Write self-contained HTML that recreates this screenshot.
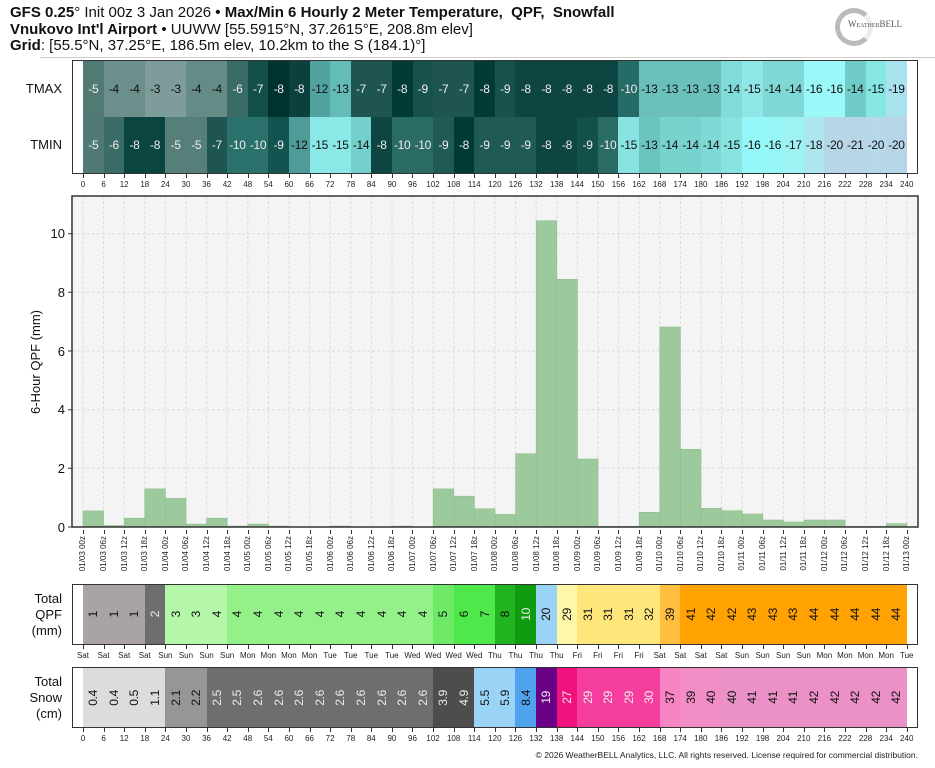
<!DOCTYPE html>
<html><head><meta charset="utf-8">
<style>
*{margin:0;padding:0;box-sizing:border-box}
body{width:935px;height:768px;background:#fff;position:relative;overflow:hidden;font-family:"Liberation Sans",sans-serif;color:#111}
.abs{position:absolute}
.hdr{position:absolute;left:10px;font-family:"Liberation Sans Narrow","Liberation Sans",sans-serif;font-size:15px;white-space:nowrap;color:#111}
.hdr b{font-weight:bold}
.box{position:absolute;left:72px;width:846px;border:1.5px solid #333}
.row{position:absolute;left:83px;width:824px;display:flex}
.row div{flex:1;display:flex;align-items:center;justify-content:center;font-size:12px;white-space:nowrap;letter-spacing:-0.3px}
.w{color:#eee}.k{color:#111}
.ticks{position:absolute;left:72.7px;width:844.6px;display:flex;font-size:8px;font-family:"Liberation Sans Narrow","Liberation Sans",sans-serif;color:#222}
.ticks div{flex:1;text-align:center;position:relative;padding-top:6px}
.ticks div:before{content:"";position:absolute;left:50%;top:0;width:1px;height:4px;background:#333}
.lab{position:absolute;right:873px;text-align:right;font-size:13px;line-height:16px;color:#111}
.v div span{writing-mode:vertical-rl;transform:rotate(180deg);font-size:12px}
.dates{position:absolute;left:72.7px;width:844.6px;top:531px;height:50px;display:flex;font-size:8px;font-family:"Liberation Sans Narrow","Liberation Sans",sans-serif;color:#222}
.dates div{flex:1;display:flex;justify-content:center;align-items:flex-start;position:relative;padding-top:5px}
.dates div:before{content:"";position:absolute;left:50%;top:-1px;width:1px;height:4px;background:#333}
.dates span{writing-mode:vertical-rl;transform:rotate(180deg);white-space:nowrap}
</style></head><body>

<div class="hdr" style="top:4px"><b>GFS 0.25</b>° Init 00z 3 Jan 2026 <b>• Max/Min 6 Hourly 2 Meter Temperature,&nbsp; QPF,&nbsp; Snowfall</b></div>
<div class="hdr" style="top:21px"><b>Vnukovo Int'l Airport</b> • UUWW [55.5915°N, 37.2615°E, 208.8m elev]</div>
<div class="hdr" style="top:37px"><b>Grid</b>: [55.5°N, 37.25°E, 186.5m elev, 10.2km to the S (184.1)°]</div>
<div class="abs" style="left:40px;top:57px;width:895px;height:1px;background:#ccc"></div>
<div class="abs" style="left:835px;top:8px;width:38px;height:38px;border-radius:50%;border:5px solid #bbb;border-right-color:#eee"></div>
<div class="abs" style="left:848px;top:19px;font-size:9px;color:#555;font-family:'Liberation Serif',serif">W<span style="font-size:6px">EATHER</span>BELL</div>

<!-- Heatmap -->
<div class="box" style="top:60px;height:114px"></div>
<div class="row" style="top:61px;height:56px">
<div class="w" style="background:#517a75">-5</div><div class="k" style="background:#6c8f8b">-4</div><div class="k" style="background:#6c8f8b">-4</div><div class="k" style="background:#7e9c99">-3</div><div class="k" style="background:#7e9c99">-3</div><div class="k" style="background:#658b86">-4</div><div class="k" style="background:#658b86">-4</div><div class="w" style="background:#3a6a65">-6</div><div class="w" style="background:#13504b">-7</div><div class="w" style="background:#00332f">-8</div><div class="w" style="background:#0b403c">-8</div><div class="k" style="background:#52a39f">-12</div><div class="k" style="background:#63bcb7">-13</div><div class="w" style="background:#1f5550">-7</div><div class="w" style="background:#1f5550">-7</div><div class="w" style="background:#023a35">-8</div><div class="w" style="background:#17524d">-9</div><div class="w" style="background:#1f5550">-7</div><div class="w" style="background:#1f5550">-7</div><div class="w" style="background:#023a35">-8</div><div class="w" style="background:#17524d">-9</div><div class="w" style="background:#0d4543">-8</div><div class="w" style="background:#0d4543">-8</div><div class="w" style="background:#0d4543">-8</div><div class="w" style="background:#0d4543">-8</div><div class="w" style="background:#0d4543">-8</div><div class="w" style="background:#256b66">-10</div><div class="k" style="background:#6cc0bc">-13</div><div class="k" style="background:#6cc0bc">-13</div><div class="k" style="background:#6cc0bc">-13</div><div class="k" style="background:#6cc0bc">-13</div><div class="k" style="background:#80dcda">-14</div><div class="k" style="background:#8ee6e6">-15</div><div class="k" style="background:#7fd8d6">-14</div><div class="k" style="background:#7fd8d6">-14</div><div class="k" style="background:#9af8f8">-16</div><div class="k" style="background:#9af8f8">-16</div><div class="k" style="background:#6fccc8">-14</div><div class="k" style="background:#86e6e2">-15</div><div class="k" style="background:#a8e2ee">-19</div>
</div>
<div class="row" style="top:117px;height:56px">
<div class="w" style="background:#4f7974">-5</div><div class="w" style="background:#3b6b66">-6</div><div class="w" style="background:#0b4542">-8</div><div class="w" style="background:#0b4542">-8</div><div class="w" style="background:#567f7a">-5</div><div class="w" style="background:#567f7a">-5</div><div class="w" style="background:#1f5550">-7</div><div class="w" style="background:#2a716c">-10</div><div class="w" style="background:#2a716c">-10</div><div class="w" style="background:#135450">-9</div><div class="k" style="background:#4f9b97">-12</div><div class="k" style="background:#8ae8e6">-15</div><div class="k" style="background:#8ae8e6">-15</div><div class="k" style="background:#73d0cc">-14</div><div class="w" style="background:#0c4542">-8</div><div class="w" style="background:#2a6b66">-10</div><div class="w" style="background:#2a6b66">-10</div><div class="w" style="background:#1f5a56">-9</div><div class="w" style="background:#003a36">-8</div><div class="w" style="background:#1f5a56">-9</div><div class="w" style="background:#1f5a56">-9</div><div class="w" style="background:#1f5a56">-9</div><div class="w" style="background:#0c4542">-8</div><div class="w" style="background:#0c4542">-8</div><div class="w" style="background:#134f4b">-9</div><div class="w" style="background:#2a6b66">-10</div><div class="k" style="background:#8ae3e3">-15</div><div class="k" style="background:#6ac5c1">-13</div><div class="k" style="background:#78d2ce">-14</div><div class="k" style="background:#78d2ce">-14</div><div class="k" style="background:#7ed8d5">-14</div><div class="k" style="background:#88e2e0">-15</div><div class="k" style="background:#95f7f7">-16</div><div class="k" style="background:#95f7f7">-16</div><div class="k" style="background:#9ff2f4">-17</div><div class="k" style="background:#ade6ef">-18</div><div class="k" style="background:#b6d6e8">-20</div><div class="k" style="background:#b8d4e7">-21</div><div class="k" style="background:#b6d8ea">-20</div><div class="k" style="background:#b6d6e8">-20</div>
</div>
<div class="lab" style="top:81px">TMAX</div>
<div class="lab" style="top:137px">TMIN</div>
<div class="ticks" style="top:174px"><div>0</div><div>6</div><div>12</div><div>18</div><div>24</div><div>30</div><div>36</div><div>42</div><div>48</div><div>54</div><div>60</div><div>66</div><div>72</div><div>78</div><div>84</div><div>90</div><div>96</div><div>102</div><div>108</div><div>114</div><div>120</div><div>126</div><div>132</div><div>138</div><div>144</div><div>150</div><div>156</div><div>162</div><div>168</div><div>174</div><div>180</div><div>186</div><div>192</div><div>198</div><div>204</div><div>210</div><div>216</div><div>222</div><div>228</div><div>234</div><div>240</div></div>

<!-- Main chart -->
<svg class="abs" style="left:0;top:0" width="935" height="768">
<rect x="72" y="196" width="846" height="331" fill="#f4f4f4"/>
<g stroke="#dcdcdc" stroke-width="1" stroke-dasharray="3,2">
<line x1="72" x2="918" y1="468.3" y2="468.3"/><line x1="72" x2="918" y1="409.7" y2="409.7"/><line x1="72" x2="918" y1="351" y2="351"/><line x1="72" x2="918" y1="292.3" y2="292.3"/><line x1="72" x2="918" y1="233.7" y2="233.7"/>
<path d="M83 196V527M103.6 196V527M124.2 196V527M144.8 196V527M165.4 196V527M186 196V527M206.6 196V527M227.2 196V527M247.8 196V527M268.4 196V527M289 196V527M309.6 196V527M330.2 196V527M350.8 196V527M371.4 196V527M392 196V527M412.6 196V527M433.2 196V527M453.8 196V527M474.4 196V527M495 196V527M515.6 196V527M536.2 196V527M556.8 196V527M577.4 196V527M598 196V527M618.6 196V527M639.2 196V527M659.8 196V527M680.4 196V527M701 196V527M721.6 196V527M742.2 196V527M762.8 196V527M783.4 196V527M804 196V527M824.6 196V527M845.2 196V527M865.8 196V527M886.4 196V527M907 196V527"/>
</g>
<g fill="#9dca9d" stroke="#8fbf8f" stroke-width="0.6">
<rect x="83" y="510.9" width="20.6" height="16.1"/>
<rect x="103.6" y="525.5" width="20.6" height="1.5"/>
<rect x="124.2" y="518.2" width="20.6" height="8.8"/>
<rect x="144.8" y="488.9" width="20.6" height="38.1"/>
<rect x="165.4" y="498.3" width="20.6" height="28.7"/>
<rect x="186" y="524.1" width="20.6" height="2.9"/>
<rect x="206.6" y="518.2" width="20.6" height="8.8"/>
<rect x="227.2" y="526.1" width="20.6" height="0.9"/>
<rect x="247.8" y="524.1" width="20.6" height="2.9"/>
<rect x="268.4" y="526.1" width="20.6" height="0.9"/>
<rect x="330.2" y="526.1" width="20.6" height="0.9"/>
<rect x="392" y="526.1" width="20.6" height="0.9"/>
<rect x="433.2" y="488.9" width="20.6" height="38.1"/>
<rect x="453.8" y="496.2" width="20.6" height="30.8"/>
<rect x="474.4" y="508.8" width="20.6" height="18.2"/>
<rect x="495" y="514.4" width="20.6" height="12.6"/>
<rect x="515.6" y="453.7" width="20.6" height="73.3"/>
<rect x="536.2" y="220.7" width="20.6" height="306.3"/>
<rect x="556.8" y="279.3" width="20.6" height="247.7"/>
<rect x="577.4" y="459" width="20.6" height="68"/>
<rect x="598" y="526.4" width="20.6" height="0.6"/>
<rect x="618.6" y="526.4" width="20.6" height="0.6"/>
<rect x="639.2" y="512.3" width="20.6" height="14.7"/>
<rect x="659.8" y="327" width="20.6" height="200"/>
<rect x="680.4" y="449.3" width="20.6" height="77.7"/>
<rect x="701" y="508.3" width="20.6" height="18.7"/>
<rect x="721.6" y="510.7" width="20.6" height="16.3"/>
<rect x="742.2" y="514" width="20.6" height="13"/>
<rect x="762.8" y="520" width="20.6" height="7"/>
<rect x="783.4" y="522" width="20.6" height="5"/>
<rect x="804" y="520" width="20.6" height="7"/>
<rect x="824.6" y="520" width="20.6" height="7"/>
<rect x="845.2" y="526.4" width="20.6" height="0.6"/>
<rect x="865.8" y="526.4" width="20.6" height="0.6"/>
<rect x="886.4" y="523.7" width="20.6" height="3.3"/>
</g>
<rect x="72" y="196" width="846" height="331" fill="none" stroke="#333" stroke-width="1.5"/>
<g stroke="#333"><path d="M68 527H72M68 468.3H72M68 409.7H72M68 351H72M68 292.3H72M68 233.7H72"/></g>
<g font-size="13" fill="#111" text-anchor="end" font-family="Liberation Sans, sans-serif">
<text x="65" y="532">0</text><text x="65" y="473">2</text><text x="65" y="414">4</text><text x="65" y="356">6</text><text x="65" y="297">8</text><text x="65" y="238">10</text>
</g>
<text transform="translate(40,362) rotate(-90)" text-anchor="middle" font-size="13" fill="#111" font-family="Liberation Sans, sans-serif">6-Hour QPF (mm)</text>
</svg>
<div class="dates"><div><span>01/03 00z</span></div><div><span>01/03 06z</span></div><div><span>01/03 12z</span></div><div><span>01/03 18z</span></div><div><span>01/04 00z</span></div><div><span>01/04 06z</span></div><div><span>01/04 12z</span></div><div><span>01/04 18z</span></div><div><span>01/05 00z</span></div><div><span>01/05 06z</span></div><div><span>01/05 12z</span></div><div><span>01/05 18z</span></div><div><span>01/06 00z</span></div><div><span>01/06 06z</span></div><div><span>01/06 12z</span></div><div><span>01/06 18z</span></div><div><span>01/07 00z</span></div><div><span>01/07 06z</span></div><div><span>01/07 12z</span></div><div><span>01/07 18z</span></div><div><span>01/08 00z</span></div><div><span>01/08 06z</span></div><div><span>01/08 12z</span></div><div><span>01/08 18z</span></div><div><span>01/09 00z</span></div><div><span>01/09 06z</span></div><div><span>01/09 12z</span></div><div><span>01/09 18z</span></div><div><span>01/10 00z</span></div><div><span>01/10 06z</span></div><div><span>01/10 12z</span></div><div><span>01/10 18z</span></div><div><span>01/11 00z</span></div><div><span>01/11 06z</span></div><div><span>01/11 12z</span></div><div><span>01/11 18z</span></div><div><span>01/12 00z</span></div><div><span>01/12 06z</span></div><div><span>01/12 12z</span></div><div><span>01/12 18z</span></div><div><span>01/13 00z</span></div></div>

<!-- Total QPF -->
<div class="box" style="top:584px;height:61px"></div>
<div class="row v" style="top:585px;height:59px">
<div class="k" style="background:#a9a3a3"><span>1</span></div><div class="k" style="background:#a9a3a3"><span>1</span></div><div class="k" style="background:#a9a3a3"><span>1</span></div><div class="w" style="background:#6e6e6e"><span>2</span></div><div class="k" style="background:#b4f7a8"><span>3</span></div><div class="k" style="background:#b4f7a8"><span>3</span></div><div class="k" style="background:#b4f7a8"><span>4</span></div><div class="k" style="background:#94f088"><span>4</span></div><div class="k" style="background:#94f088"><span>4</span></div><div class="k" style="background:#94f088"><span>4</span></div><div class="k" style="background:#94f088"><span>4</span></div><div class="k" style="background:#94f088"><span>4</span></div><div class="k" style="background:#94f088"><span>4</span></div><div class="k" style="background:#94f088"><span>4</span></div><div class="k" style="background:#94f088"><span>4</span></div><div class="k" style="background:#94f088"><span>4</span></div><div class="k" style="background:#94f088"><span>4</span></div><div class="k" style="background:#6eea66"><span>5</span></div><div class="k" style="background:#4ee84b"><span>6</span></div><div class="k" style="background:#4ee84b"><span>7</span></div><div class="k" style="background:#20b520"><span>8</span></div><div class="w" style="background:#0e9b0e"><span>10</span></div><div class="k" style="background:#9bd3f7"><span>20</span></div><div class="k" style="background:#fff7a8"><span>29</span></div><div class="k" style="background:#ffe67a"><span>31</span></div><div class="k" style="background:#ffe67a"><span>31</span></div><div class="k" style="background:#ffe67a"><span>31</span></div><div class="k" style="background:#ffe67a"><span>32</span></div><div class="k" style="background:#ffbf40"><span>39</span></div><div class="k" style="background:#ffa202"><span>41</span></div><div class="k" style="background:#ffa202"><span>42</span></div><div class="k" style="background:#ffa202"><span>42</span></div><div class="k" style="background:#ffa202"><span>43</span></div><div class="k" style="background:#ffa202"><span>43</span></div><div class="k" style="background:#ffa202"><span>43</span></div><div class="k" style="background:#ffa202"><span>44</span></div><div class="k" style="background:#ffa202"><span>44</span></div><div class="k" style="background:#ffa202"><span>44</span></div><div class="k" style="background:#ffa202"><span>44</span></div><div class="k" style="background:#ffa202"><span>44</span></div>
</div>
<div class="lab" style="top:591px">Total<br>QPF<br>(mm)</div>
<div class="ticks" style="top:645px"><div>Sat</div><div>Sat</div><div>Sat</div><div>Sat</div><div>Sun</div><div>Sun</div><div>Sun</div><div>Sun</div><div>Mon</div><div>Mon</div><div>Mon</div><div>Mon</div><div>Tue</div><div>Tue</div><div>Tue</div><div>Tue</div><div>Wed</div><div>Wed</div><div>Wed</div><div>Wed</div><div>Thu</div><div>Thu</div><div>Thu</div><div>Thu</div><div>Fri</div><div>Fri</div><div>Fri</div><div>Fri</div><div>Sat</div><div>Sat</div><div>Sat</div><div>Sat</div><div>Sun</div><div>Sun</div><div>Sun</div><div>Sun</div><div>Mon</div><div>Mon</div><div>Mon</div><div>Mon</div><div>Tue</div></div>

<!-- Total Snow -->
<div class="box" style="top:667px;height:61px"></div>
<div class="row v" style="top:668px;height:59px">
<div class="k" style="background:#dcdcdc"><span>0.4</span></div><div class="k" style="background:#dcdcdc"><span>0.4</span></div><div class="k" style="background:#dcdcdc"><span>0.5</span></div><div class="k" style="background:#dcdcdc"><span>1.1</span></div><div class="k" style="background:#969696"><span>2.1</span></div><div class="k" style="background:#969696"><span>2.2</span></div><div class="w" style="background:#6e6e6e"><span>2.5</span></div><div class="w" style="background:#6e6e6e"><span>2.5</span></div><div class="w" style="background:#6e6e6e"><span>2.6</span></div><div class="w" style="background:#6e6e6e"><span>2.6</span></div><div class="w" style="background:#6e6e6e"><span>2.6</span></div><div class="w" style="background:#6e6e6e"><span>2.6</span></div><div class="w" style="background:#6e6e6e"><span>2.6</span></div><div class="w" style="background:#6e6e6e"><span>2.6</span></div><div class="w" style="background:#6e6e6e"><span>2.6</span></div><div class="w" style="background:#6e6e6e"><span>2.6</span></div><div class="w" style="background:#6e6e6e"><span>2.6</span></div><div class="w" style="background:#4d4d4d"><span>3.9</span></div><div class="w" style="background:#4d4d4d"><span>4.9</span></div><div class="k" style="background:#9bd3f7"><span>5.5</span></div><div class="k" style="background:#9bd3f7"><span>5.9</span></div><div class="k" style="background:#4ea2ee"><span>8.4</span></div><div class="w" style="background:#6a0085"><span>19</span></div><div class="w" style="background:#f0127e"><span>27</span></div><div class="w" style="background:#f53d9e"><span>29</span></div><div class="w" style="background:#f53d9e"><span>29</span></div><div class="w" style="background:#f53d9e"><span>29</span></div><div class="w" style="background:#f53d9e"><span>30</span></div><div class="k" style="background:#f784c3"><span>37</span></div><div class="k" style="background:#f28dc6"><span>39</span></div><div class="k" style="background:#f28dc6"><span>40</span></div><div class="k" style="background:#eb91c7"><span>40</span></div><div class="k" style="background:#eb91c7"><span>41</span></div><div class="k" style="background:#eb91c7"><span>41</span></div><div class="k" style="background:#eb91c7"><span>41</span></div><div class="k" style="background:#eb91c7"><span>42</span></div><div class="k" style="background:#eb91c7"><span>42</span></div><div class="k" style="background:#eb91c7"><span>42</span></div><div class="k" style="background:#eb91c7"><span>42</span></div><div class="k" style="background:#eb91c7"><span>42</span></div>
</div>
<div class="lab" style="top:674px">Total<br>Snow<br>(cm)</div>
<div class="ticks" style="top:728px"><div>0</div><div>6</div><div>12</div><div>18</div><div>24</div><div>30</div><div>36</div><div>42</div><div>48</div><div>54</div><div>60</div><div>66</div><div>72</div><div>78</div><div>84</div><div>90</div><div>96</div><div>102</div><div>108</div><div>114</div><div>120</div><div>126</div><div>132</div><div>138</div><div>144</div><div>150</div><div>156</div><div>162</div><div>168</div><div>174</div><div>180</div><div>186</div><div>192</div><div>198</div><div>204</div><div>210</div><div>216</div><div>222</div><div>228</div><div>234</div><div>240</div></div>

<div class="abs" style="right:17px;top:750px;font-size:8.5px;color:#222;font-family:'Liberation Sans Narrow','Liberation Sans',sans-serif;white-space:nowrap">© 2026 WeatherBELL Analytics, LLC. All rights reserved. License required for commercial distribution.</div>
</body></html>
